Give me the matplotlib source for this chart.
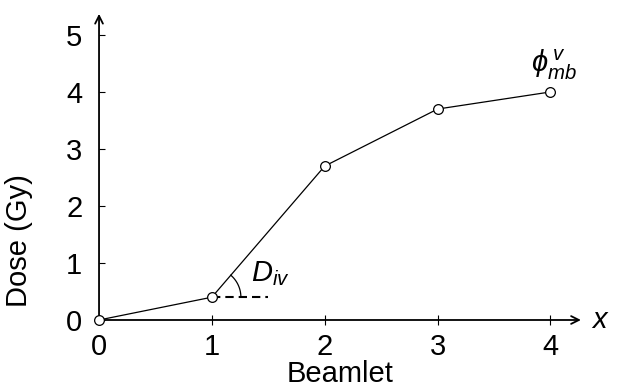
import numpy as np
import matplotlib
matplotlib.use("Agg")
import matplotlib.pyplot as plt

plt.rcParams['font.family'] = ['Liberation Sans', 'DejaVu Sans']
plt.rcParams['mathtext.fontset'] = 'custom'
plt.rcParams['mathtext.it'] = 'Liberation Sans:italic'
plt.rcParams['mathtext.rm'] = 'Liberation Sans'

beamlet = [0, 1, 2, 3, 4]
dose = [0, 0.4, 2.7, 3.7, 4.0]
x_ticks = [0, 1, 2, 3, 4]
y_ticks = [0, 1, 2, 3, 4, 5]

fig = plt.figure(figsize=(6.17, 3.9), dpi=100)
ax = fig.add_axes([0.1605, 0.1795, 0.781, 0.785])
ax.set_xlim(0, 4.27)
ax.set_ylim(0, 5.37)

for s in ax.spines.values():
    s.set_visible(False)

# axes with arrow heads
for end in [(1, 0), (0, 1)]:
    ax.annotate('', xy=end, xytext=(0, 0), xycoords='axes fraction',
                arrowprops=dict(arrowstyle='->', lw=1.3, color='k', shrinkA=0, shrinkB=0,
                                mutation_scale=14))

ax.set_xticks(x_ticks)
ax.set_yticks(y_ticks)
ax.tick_params(axis='x', direction='inout', length=7, width=0.8, labelsize=21, pad=6)
ax.tick_params(axis='y', direction='in', length=4, width=0.8, labelsize=21, pad=12)

ax.plot(beamlet, dose, '-', color='k', lw=0.9, zorder=3)
ax.plot(beamlet, dose, 'o', ms=7, mfc='white', mec='k', mew=0.9, zorder=4, clip_on=False)

# dashed horizontal reference at the second point
ax.plot([beamlet[1], beamlet[1] + 0.5], [dose[1], dose[1]], color='k', lw=1.5,
        dashes=(4, 2.4), zorder=2)

# angle arc between dashed line and the rising segment
fig.canvas.draw()
p0 = ax.transData.transform((beamlet[1], dose[1]))
p1 = ax.transData.transform((beamlet[2], dose[2]))
ang = np.arctan2(p1[1] - p0[1], p1[0] - p0[0])
t = np.linspace(0, ang, 40)
r = 29
arc_disp = np.column_stack([p0[0] + r * np.cos(t), p0[1] + r * np.sin(t)])
arc_data = ax.transData.inverted().transform(arc_disp)
ax.plot(arc_data[:, 0], arc_data[:, 1], color='k', lw=0.9)

ax.text(1.35, 0.82, r'$D_{iv}$', fontsize=21, ha='left', va='center')
ax.text(4.03, 4.47, r'$\phi^{\,v}_{mb}$', fontsize=21, ha='center', va='center')

ax.text(1.02, 0.0, r'$x$', transform=ax.transAxes, fontsize=21, ha='left', va='center')
ax.set_xlabel('Beamlet', fontsize=21)
ax.xaxis.set_label_coords(0.5, -0.13)
ax.set_ylabel('Dose (Gy)', fontsize=21)
ax.yaxis.set_label_coords(-0.137, 0.26)

fig.savefig('out.png', dpi=100)
